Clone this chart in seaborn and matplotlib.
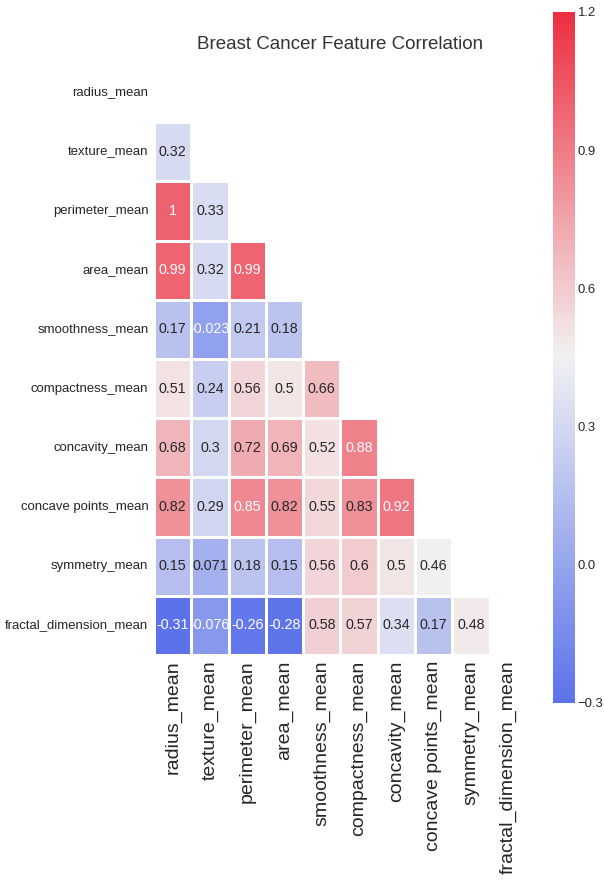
from matplotlib import pyplot as plt
from matplotlib import font_manager
import numpy as np
import pandas as pd
import seaborn as sns


features = ['radius_mean', 'texture_mean', 'perimeter_mean', 'area_mean',
	'smoothness_mean', 'compactness_mean', 'concavity_mean',
	'concave points_mean', 'symmetry_mean', 'fractal_dimension_mean']

# lower triangle, one list per row (row 0 has nothing below the diagonal)
texture_row = [0.32]
perimeter_row = [1, 0.33]
area_row = [0.99, 0.32, 0.99]
smoothness_row = [0.17, -0.023, 0.21, 0.18]
compactness_row = [0.51, 0.24, 0.56, 0.5, 0.66]
concavity_row = [0.68, 0.3, 0.72, 0.69, 0.52, 0.88]
concave_pts_row = [0.82, 0.29, 0.85, 0.82, 0.55, 0.83, 0.92]
symmetry_row = [0.15, 0.071, 0.18, 0.15, 0.56, 0.6, 0.5, 0.46]
fractal_row = [-0.31, -0.076, -0.26, -0.28, 0.58, 0.57, 0.34, 0.17, 0.48]

cbar_ticks = [-0.3, 0.0, 0.3, 0.6, 0.9, 1.2]


lower_rows = [texture_row, perimeter_row, area_row, smoothness_row,
	compactness_row, concavity_row, concave_pts_row, symmetry_row, fractal_row]

n = len(features)
corr = np.eye(n)
for i, row in enumerate(lower_rows, start=1):
	corr[i, :i] = row
	corr[:i, i] = row

df = pd.DataFrame(corr, index=features, columns=features)
mask = np.triu(np.ones_like(corr, dtype=bool))

sns.set_style('white')

# narrow face if there is one, the picture is squeezed sideways
names = {f.name for f in font_manager.fontManager.ttflist}
if 'Liberation Sans Narrow' in names:
	fam = 'Liberation Sans Narrow'
	k = 1.0
else:
	fam = 'Liberation Sans'
	k = 0.82
plt.rcParams['font.family'] = [fam, 'DejaVu Sans']

cmap = sns.diverging_palette(262, 10, s=85, l=52, as_cmap=True)

fig = plt.figure(figsize=(6.05, 8.93), dpi=100)
ax = fig.add_axes([0.2545, 0.2665, 0.6165, 0.663])
cax = fig.add_axes([0.914, 0.2128, 0.0364, 0.774])

sns.heatmap(df, mask=mask, cmap=cmap, vmin=-0.3, vmax=1.2,
	annot=True, annot_kws={'size': 12.5 * k},
	linewidths=2, linecolor='white', ax=ax, cbar_ax=cax)

# 0.83 reads dark in the original
for t in ax.texts:
	if t.get_text() == '0.83':
		t.set_color('#262626')

ax.set_title('Breast Cancer Feature Correlation', fontsize=16.5 * k,
	color='#333333', pad=10)
ax.set_yticklabels(features, rotation=0, fontsize=11.5 * k, color='#262626')
ax.set_xticklabels(features, rotation=90, fontsize=14,
	family=['Liberation Sans', 'DejaVu Sans'], color='#262626')
ax.tick_params(length=0, pad=4)

cax.set_yticks(cbar_ticks)
cax.set_yticklabels(['{:.1f}'.format(t).replace('-', '\u2212') for t in cbar_ticks],
	fontsize=11.5 * k, color='#262626')
cax.tick_params(length=0, pad=2)
cax.set_ylim(-0.3, 1.2)

plt.savefig('out.png', dpi=100)
